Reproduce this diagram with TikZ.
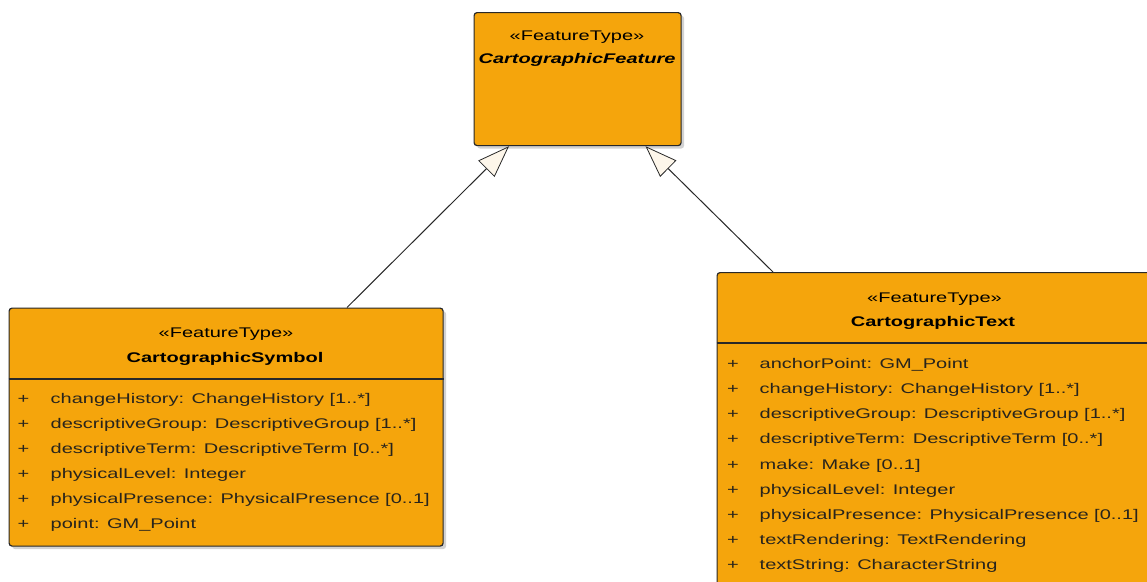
\documentclass[tikz,border=0pt]{standalone}
\usepackage{fontspec}
\newfontfamily\umlfont[FakeStretch=1.43]{Liberation Sans}
\usetikzlibrary{arrows.meta,shadows,calc}
\definecolor{umlorange}{RGB}{245,165,12}
\definecolor{umlline}{RGB}{40,40,40}
\definecolor{tipfill}{RGB}{253,246,234}
\definecolor{attrcol}{RGB}{40,36,28}
\tikzset{
  classbox/.style={draw=umlline, line width=1.2pt, fill=umlorange, rounded corners=3pt,
    inner sep=0pt, anchor=north west,
    drop shadow={shadow xshift=3pt, shadow yshift=-3pt, opacity=0.35, fill=black!50}},
  stereo/.style={inner sep=0pt, anchor=base, font=\umlfont\fontsize{14}{16}\selectfont},
  cname/.style={inner sep=0pt, anchor=base, font=\umlfont\fontsize{14}{16}\selectfont\bfseries},
  attr/.style={inner sep=0pt, anchor=base west, text=attrcol, font=\umlfont\fontsize{14}{16}\selectfont},
  sepline/.style={draw=umlline, line width=1.2pt},
  gen/.style={draw=umlline, line width=1pt,
    -{Triangle[length=32pt, width=23pt, fill=tipfill, line width=0.8pt]}}
}
\begin{document}
\begin{tikzpicture}[x=1pt, y=-1pt]
\useasboundingbox (0,0) rectangle (1147,581);
\clip (0,0) rectangle (1147,581);
\fill[white] (0,0) rectangle (1147,581);

% top class
\node[classbox, minimum width=207pt, minimum height=133pt] (feat) at (473.5,12) {};
\node[stereo] (featst) at (577,40) {«FeatureType»};
\node[cname, font=\umlfont\fontsize{14}{16}\selectfont\bfseries\itshape] (featnm) at (577,63.5) {CartographicFeature};

% left class
\node[classbox, minimum width=434pt, minimum height=238pt] (sym) at (8.5,307.5) {};
\draw[sepline] ([yshift=-71.5pt]sym.north west) -- ([yshift=-71.5pt]sym.north east);
\node[stereo] (symst) at (226,337.5) {«FeatureType»};
\node[cname] (symnm) at (225,362) {CartographicSymbol};
\foreach \t [count=\i] in {changeHistory: ChangeHistory [1..*],
  descriptiveGroup: DescriptiveGroup [1..*],
  descriptiveTerm: DescriptiveTerm [0..*],
  physicalLevel: Integer,
  physicalPresence: PhysicalPresence [0..1],
  point: GM\_Point}{
  \node[attr] (sp\i) at (17.5,{378.5+25*\i}) {+};
  \node[attr] (sa\i) at (50.5,{378.5+25*\i}) {\t};
}

% right class
\node[classbox, minimum width=440pt, minimum height=330pt] (txt) at (716.5,272) {};
\draw[sepline] ([yshift=-71pt]txt.north west) -- ([yshift=-71pt]txt.north east);
\node[stereo] (txtst) at (934.5,302) {«FeatureType»};
\node[cname] (txtnm) at (933,326.5) {CartographicText};
\foreach \t [count=\i] in {anchorPoint: GM\_Point,
  changeHistory: ChangeHistory [1..*],
  descriptiveGroup: DescriptiveGroup [1..*],
  descriptiveTerm: DescriptiveTerm [0..*],
  make: Make [0..1],
  physicalLevel: Integer,
  physicalPresence: PhysicalPresence [0..1],
  textRendering: TextRendering,
  textString: CharacterString}{
  \node[attr] (tp\i) at (727,{343.5+25.1*\i}) {+};
  \node[attr] (ta\i) at (759.5,{343.5+25.1*\i}) {\t};
}

% generalizations
\draw[gen] ([xshift=338.5pt]sym.north west) -- ([xshift=35.5pt]feat.south west);
\draw[gen] ([xshift=56.5pt]txt.north west) -- ([xshift=172pt]feat.south west);
\end{tikzpicture}
\end{document}
